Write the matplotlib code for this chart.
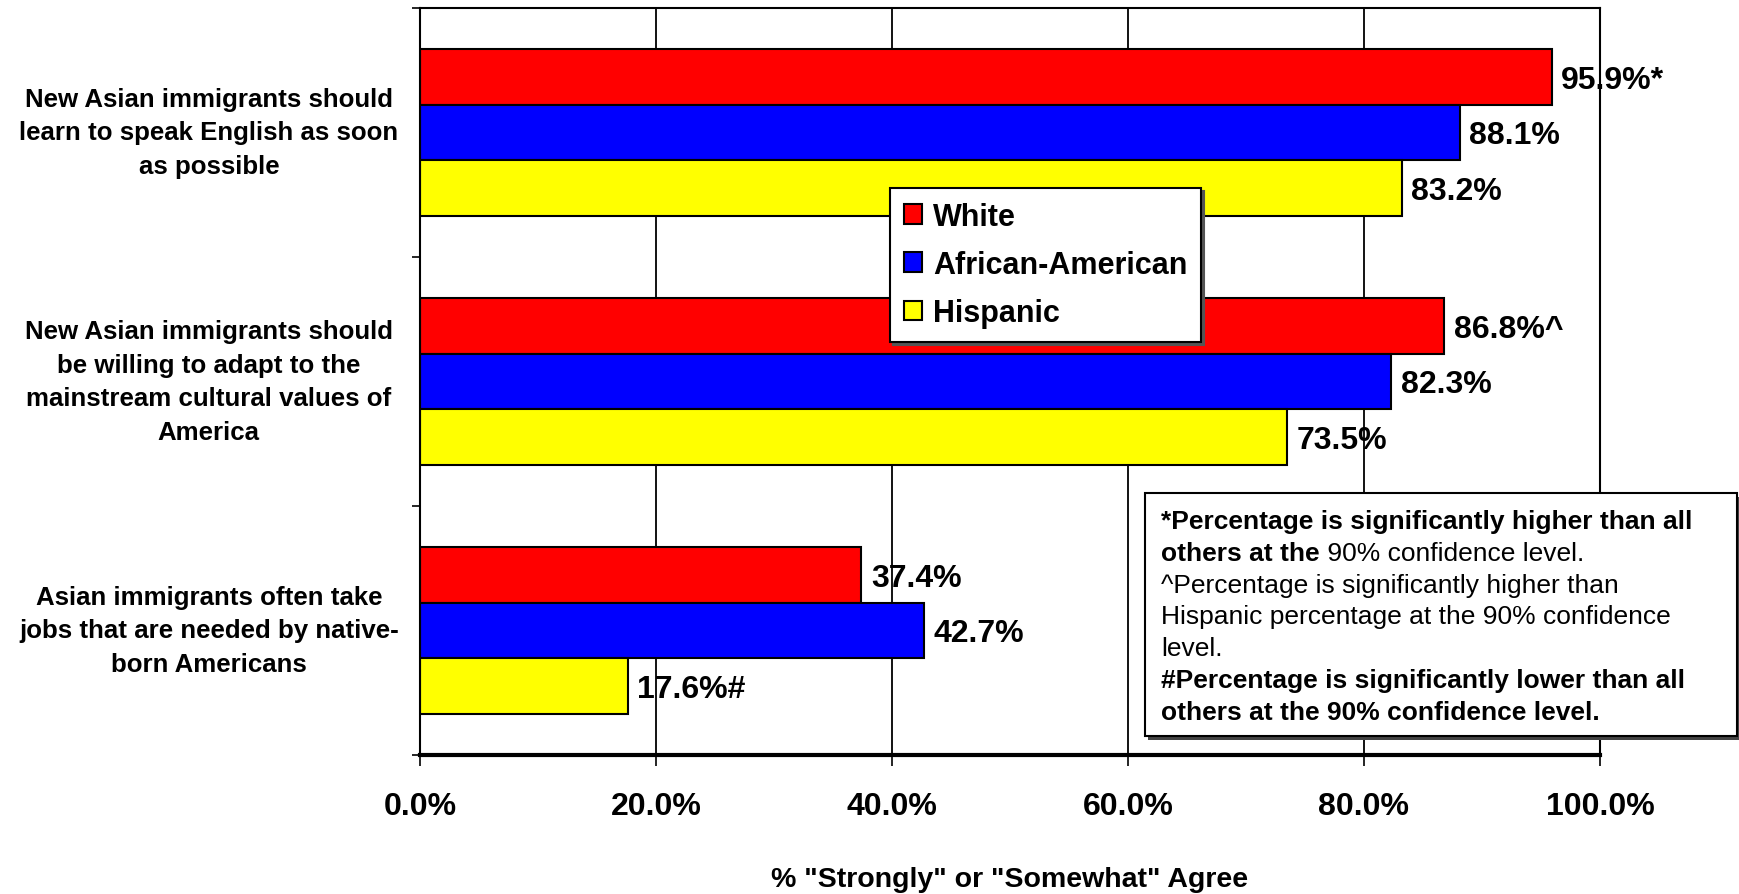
import numpy as np
import matplotlib.pyplot as plt
from matplotlib.patches import Rectangle
from matplotlib.text import Annotation
from matplotlib.transforms import blended_transform_factory

plt.rcParams['font.family'] = ['Liberation Sans', 'DejaVu Sans']

statements = [
    'New Asian immigrants should\nlearn to speak English as soon\nas possible',
    'New Asian immigrants should\nbe willing to adapt to the\nmainstream cultural values of\nAmerica',
    'Asian immigrants often take\njobs that are needed by native-\nborn Americans',
]
groups = ['White', 'African-American', 'Hispanic']
white = [95.9, 86.8, 37.4]
african_american = [88.1, 82.3, 42.7]
hispanic = [83.2, 73.5, 17.6]
marks_white = ['*', '^', '']
marks_african_american = ['', '', '']
marks_hispanic = ['', '', '#']
colors = ['#ff0000', '#0000ff', '#ffff00']
x_ticks = [0, 20, 40, 60, 80, 100]

fig = plt.figure(figsize=(17.4, 8.95), dpi=100)
ax = fig.add_axes([0.2414, 0.1553, 0.9195 - 0.2414, 0.99 - 0.1553])

y = np.arange(len(statements))
h = 0.223
series = [white, african_american, hispanic]
marks = [marks_white, marks_african_american, marks_hispanic]
for i, (vals, mk) in enumerate(zip(series, marks)):
    pos = y + (i - 1) * h
    ax.barh(pos, vals, height=h, color=colors[i], edgecolor='black',
            linewidth=1.5, label=groups[i], zorder=2)
    for p, v, m in zip(pos, vals, mk):
        ax.annotate(f'{v:.1f}%{m}', (v, p), xytext=(7, -2), textcoords='offset points',
                    va='center', ha='left', fontsize=23, fontweight='bold', zorder=0.4)

ax.set_xlim(0, 100)
ax.set_ylim(2.5, -0.5)
ax.set_axisbelow(True)
ax.grid(axis='x', color='black', linewidth=1.3)
ax.set_xticks(x_ticks)
ax.set_xticklabels([f'{t:.1f}%' for t in x_ticks], fontsize=23, fontweight='bold')
ax.tick_params(axis='x', length=8, width=1.2, pad=18)

ax.set_yticks([-0.5, 0.5, 1.5, 2.5])
ax.set_yticklabels([])
ax.tick_params(axis='y', which='major', length=6, width=1.2)

# category labels, centred left of the axis
trans = blended_transform_factory(ax.transAxes, ax.transData)
for yi, s in zip(y, statements):
    ax.text(-0.179, yi, s, transform=trans, ha='center', va='center',
            fontsize=18.6, fontweight='bold', linespacing=1.5)

for s in ax.spines.values():
    s.set_linewidth(1.5)
ax.spines['bottom'].set_linewidth(3)

ax.set_xlabel('% "Strongly" or "Somewhat" Agree', fontsize=20.5, fontweight='bold')
ax.xaxis.set_label_coords(0.5, -124 / 746)
ax.xaxis.label.set_va('center')

leg = ax.legend(loc='upper left', bbox_to_anchor=(0.5115, 0.789),
                bbox_transform=fig.transFigure, borderaxespad=0,
                prop={'weight': 'bold', 'size': 22}, frameon=True, fancybox=False,
                shadow={'color': '#555555', 'alpha': 1}, edgecolor='black',
                handlelength=0.6, handleheight=0.6, handletextpad=0.35,
                labelspacing=0.6, borderpad=0.45)
leg.get_frame().set_linewidth(1.5)

# note box
bx0, by0, bx1, by1 = 1145 / 1740, 1 - 737 / 895, 1737 / 1740, 1 - 494 / 895
fig.patches.append(Rectangle((bx0 + 0.002, by0 - 0.004), bx1 - bx0, by1 - by0,
                             transform=fig.transFigure, facecolor='#444444',
                             edgecolor='none', zorder=3))
fig.patches.append(Rectangle((bx0, by0), bx1 - bx0, by1 - by0,
                             transform=fig.transFigure, facecolor='white',
                             edgecolor='black', linewidth=1.5, zorder=4))

note_lines = [
    [('*Percentage is significantly higher than all', 'bold')],
    [('others at the', 'bold'), (' 90% confidence level.', 'normal')],
    [('^Percentage is significantly higher than', 'normal')],
    [('Hispanic percentage at the 90% confidence', 'normal')],
    [('level.', 'normal')],
    [('#Percentage is significantly lower than all', 'bold')],
    [('others at the 90% confidence level.', 'bold')],
]
tx = 1161 / 1740
ty0 = 522
for k, parts in enumerate(note_lines):
    yy = 1 - (ty0 + k * 31.8) / 895
    prev = None
    for txt, w in parts:
        if prev is None:
            prev = fig.text(tx, yy, txt, fontsize=19, fontweight=w, va='center',
                            ha='left', zorder=5)
        else:
            prev = fig.add_artist(Annotation(txt, xy=(1, 0.5), xycoords=prev,
                                             va='center', ha='left', fontsize=19,
                                             fontweight=w, zorder=5))

fig.savefig('out.png', dpi=100)
